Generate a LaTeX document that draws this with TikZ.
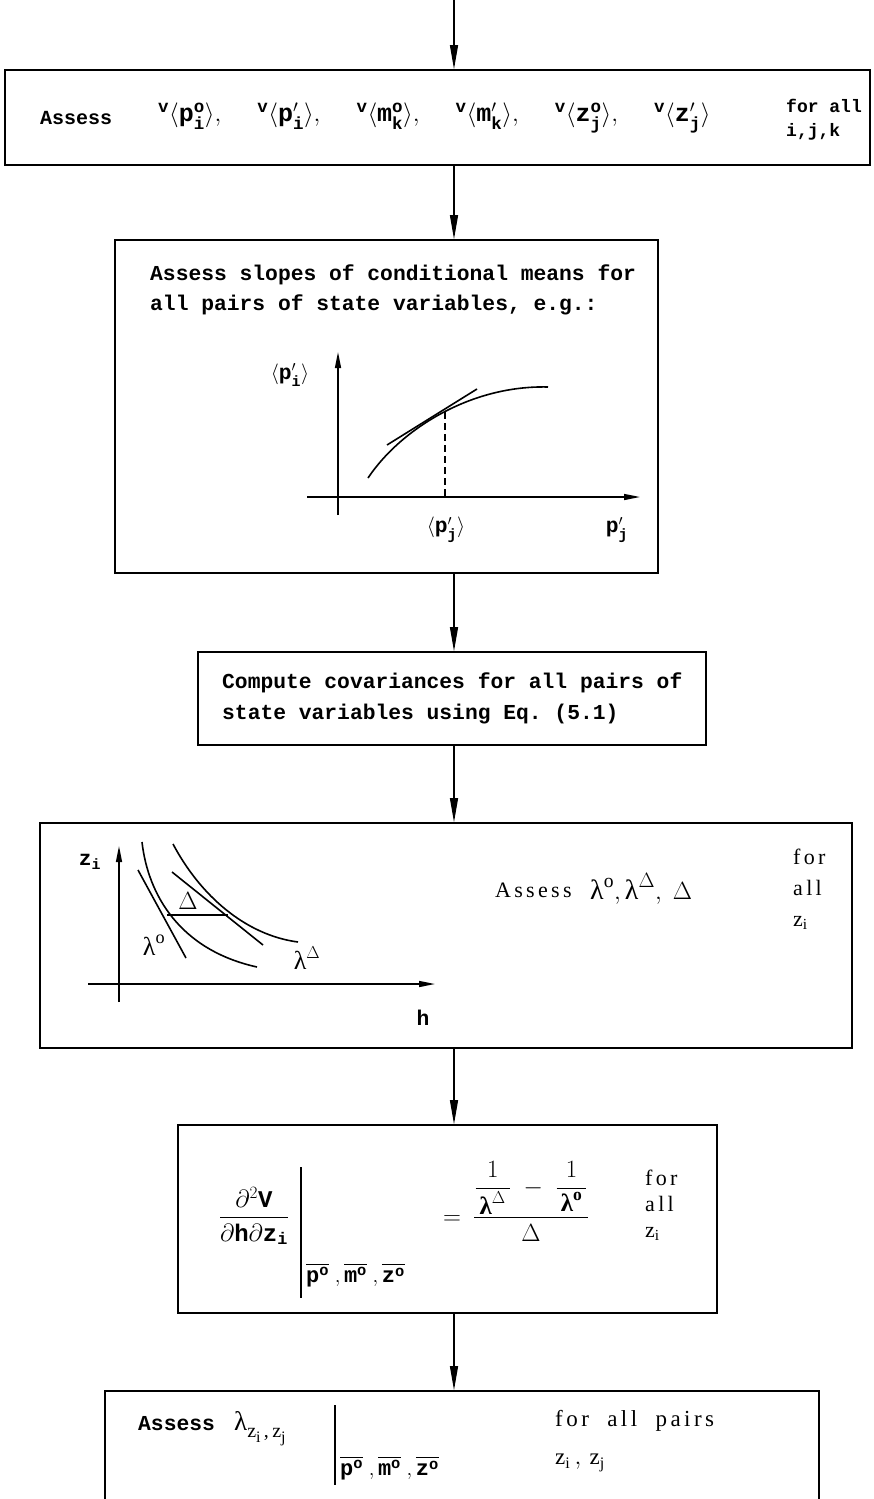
\documentclass[tikz,border=0pt]{standalone}
\usepackage{amsmath}
\usepackage{fontspec}
\setmonofont{Liberation Mono}
\newfontfamily\spacedserif[LetterSpace=15]{Liberation Serif}
\newfontfamily\plainserif{Liberation Serif}
\usetikzlibrary{positioning, arrows.meta, calc}
\newcommand{\tx}[1]{\text{#1}}
\newcommand{\vmean}[3]{{}^{\tx{v}}\langle\tx{#1}^{#2}_{\tx{#3}}\rangle}
\newcommand{\lowsub}[2]{#1\raisebox{-5pt}{\fontsize{16}{16}\selectfont #2}}

\begin{document}
\begin{tikzpicture}[x=1pt, y=-1pt,
  box/.style={draw, rectangle, line width=1.6pt, inner sep=0pt},
  flow/.style={-{Triangle[length=24pt, width=8pt]}, line width=1.2pt},
  axis/.style={-{Triangle[length=16pt, width=6pt]}, line width=1.4pt},
  curve/.style={line width=1.6pt},
  tw/.style={font=\fontsize{21.3}{30}\selectfont\ttfamily\bfseries, inner sep=0pt},
  rm/.style={font=\fontsize{22}{31}\selectfont\spacedserif, inner sep=0pt},
  greek/.style={font=\fontsize{26}{30}\selectfont\plainserif, inner sep=0pt}]

  \useasboundingbox (0,0) rectangle (873,1499);
  \clip (0,0) rectangle (873,1499);

  \coordinate (top) at (454,0);

  \node[box, minimum width=865pt, minimum height=95pt] (assess) at (437.5,117.5) {};
  \node[tw, anchor=west, font=\fontsize{20}{30}\selectfont\ttfamily\bfseries] (assessword) at (40,118) {Assess};
  \node[tw, anchor=west, font=\fontsize{25}{30}\selectfont\ttfamily\bfseries] (means) at (158,118) {$\vmean{p}{\tx{o}}{i},\quad\;\vmean{p}{\prime}{i},\quad\;\vmean{m}{\tx{o}}{k},\quad\;\vmean{m}{\prime}{k},\quad\;\vmean{z}{\tx{o}}{j},\quad\;\vmean{z}{\prime}{j}$};
  \node[tw, anchor=west, align=left, font=\fontsize{18}{24}\selectfont\ttfamily\bfseries] (forall) at (786,120) {for all\\i,j,k};

  \node[box, minimum width=543pt, minimum height=333pt] (slopes) at (386.5,406.5) {};
  \node[tw, anchor=west, align=left] (slopestext) at (150,290) {Assess slopes of conditional means for\\all pairs of state variables, e.g.:};
  \draw[axis] (338,515) -- (338,352);
  \draw[axis] (307,497) -- (640,497);
  \draw[curve] (368,478) .. controls (400,430) and (470,385) .. (548,387);
  \draw[curve] (387,445) -- (477,389);
  \draw[curve, dash pattern=on 7pt off 4pt] (445,412) -- (445,497);
  \node[tw] (pi) at (290,375) {$\langle\tx{p}'_{\tx{i}}\rangle$};
  \node[tw] (pjmean) at (446,530) {$\langle\tx{p}'_{\tx{j}}\rangle$};
  \node[tw] (pj) at (617,530) {$\tx{p}'_{\tx{j}}$};

  \node[box, minimum width=508pt, minimum height=93pt] (covar) at (452,698.5) {};
  \node[tw, anchor=west, align=left, font=\fontsize{21.3}{31}\selectfont\ttfamily\bfseries] (covartext) at (222,698) {Compute covariances for all pairs of\\state variables using Eq. (5.1)};

  \node[box, minimum width=812pt, minimum height=225pt] (lambdas) at (446,935.5) {};
  \draw[axis] (119,1002) -- (119,846);
  \draw[axis] (88,984) -- (435,984);
  \draw[curve] (142,842) .. controls (148,895) and (180,950) .. (257,967);
  \draw[curve] (173,844) .. controls (200,895) and (245,935) .. (298,942);
  \draw[curve] (138,870) -- (186,958);
  \draw[curve] (172,872) -- (263,945);
  \draw[line width=1.2pt] (167,915) -- (228,915);
  \node[tw] (zaxis) at (90,862) {$\tx{z}_{\tx{i}}$};
  \node[greek] (gap) at (188,901) {$\Delta$};
  \node[greek] (lamo) at (154,945) {$\tx{λ}^{\tx{o}}$};
  \node[greek] (lamd) at (307,958) {$\tx{λ}^{\Delta}$};
  \node[tw] (haxis) at (423,1018) {h};
  \node[rm, anchor=west] (assesslam) at (495,890) {Assess};
  \node[greek, anchor=west, font=\fontsize{28}{30}\selectfont\plainserif] (lamlist) at (590,889) {$\tx{λ}^{\tx{o}},\tx{λ}^{\Delta},\;\Delta$};
  \node[rm, anchor=west, align=left] (forallz) at (793,889) {for\\all\\$\tx{z}_{\tx{i}}$};

  \node[box, minimum width=539pt, minimum height=188pt] (cross) at (447.5,1219) {};
  \node[tw, anchor=base, font=\fontsize{24}{30}\selectfont\ttfamily\bfseries] (dvdz) at (254,1224) {$\dfrac{\partial^2\tx{V}}{\partial\tx{h}\partial\tx{z}_{\tx{i}}}$};
  \draw[line width=1.4pt] (301,1167) -- (301,1298);
  \node[tw, anchor=west, font=\fontsize{22}{30}\selectfont\ttfamily\bfseries] (atzero) at (306,1275) {$\overline{\tx{p}^{\tx{o}}}\;,\overline{\tx{m}^{\tx{o}}}\;,\overline{\tx{z}^{\tx{o}}}$};
  \node[tw, anchor=base, font=\fontsize{24}{30}\selectfont\ttfamily\bfseries] (equals) at (452,1224) {$=$};
  \node[greek, anchor=base, font=\fontsize{25}{30}\selectfont\plainserif\bfseries] (ratio) at (531,1224) {$\dfrac{\dfrac{1}{\,\tx{λ}^{\Delta}\,}\;-\;\dfrac{1}{\,\tx{λ}^{\tx{o}}\,}}{\Delta}$};
  \node[rm, anchor=west, align=left, font=\fontsize{22}{26}\selectfont\spacedserif] (forallz2) at (645,1205) {for\\all\\$\tx{z}_{\tx{i}}$};

  \node[box, minimum width=714pt, minimum height=139pt] (pairs) at (462,1460.5) {};
  \node[tw, anchor=west] (assesspair) at (138,1424) {Assess};
  \node[greek, anchor=base west, font=\fontsize{27}{30}\selectfont\plainserif] (lampair) at (234,1430) {λ\raisebox{-7pt}{\fontsize{20}{20}\selectfont\lowsub{z}{i}\,,\,\lowsub{z}{j}}};
  \draw[line width=1.4pt] (335,1405) -- (335,1485);
  \node[tw, anchor=west, font=\fontsize{22}{30}\selectfont\ttfamily\bfseries] (atzero2) at (340,1468) {$\overline{\tx{p}^{\tx{o}}}\;,\overline{\tx{m}^{\tx{o}}}\;,\overline{\tx{z}^{\tx{o}}}$};
  \node[rm, anchor=west, align=left, font=\fontsize{23}{38}\selectfont\spacedserif] (forpairs) at (555,1441) {for\ \ all\ \ pairs\\$\tx{z}_{\tx{i}}\,,\,\tx{z}_{\tx{j}}$};

  \draw[flow] (top) -- (top |- assess.north);
  \draw[flow] (top |- assess.south) -- (top |- slopes.north);
  \draw[flow] (top |- slopes.south) -- (top |- covar.north);
  \draw[flow] (top |- covar.south) -- (top |- lambdas.north);
  \draw[flow] (top |- lambdas.south) -- (top |- cross.north);
  \draw[flow] (top |- cross.south) -- (top |- pairs.north);
\end{tikzpicture}
\end{document}
